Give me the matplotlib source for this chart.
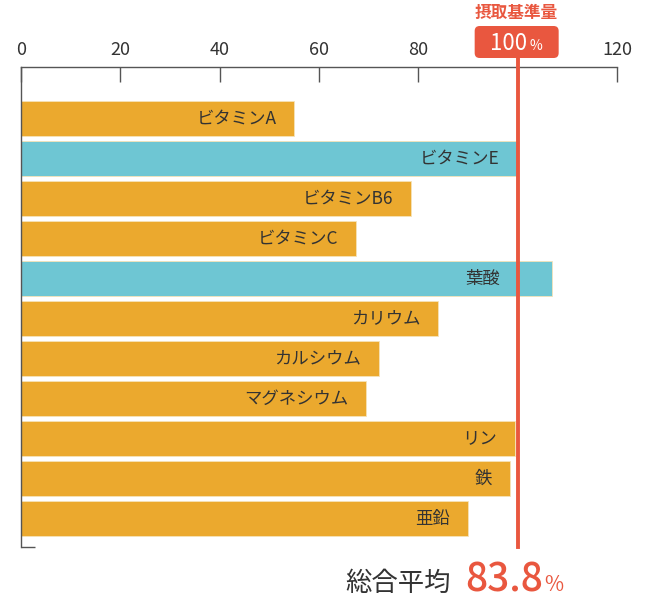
import matplotlib
matplotlib.use('Agg')
import matplotlib.pyplot as plt
from matplotlib.patches import FancyBboxPatch
from matplotlib.transforms import blended_transform_factory, IdentityTransform

plt.rcParams['font.family'] = ['Noto Sans CJK JP', 'DejaVu Sans']

names = ['ビタミンA', 'ビタミンE', 'ビタミンB6', 'ビタミンC', '葉酸', 'カリウム',
         'カルシウム', 'マグネシウム', 'リン', '鉄', '亜鉛']
values = [55, 100, 78.5, 67.4, 107, 84, 72, 69.5, 99.5, 98.5, 90]
kinds = ['m', 'h', 'm', 'm', 'h', 'm', 'm', 'm', 'm', 'm', 'm']
xticks = [0, 20, 40, 60, 80, 100, 120]
xticklabels = ['0', '20', '40', '60', '80', '', '120']
standard = 100
average = 83.8

orange = '#EBA92E'
teal = '#6EC6D3'
red = '#E9573F'
gray = '#555555'

W, H = 648, 600
fig = plt.figure(figsize=(W/100, H/100), dpi=100)
ax = fig.add_axes([21/W, 53/H, (617-21)/W, 480/H])

ypos = list(range(len(names)))
cols = [teal if k == 'h' else orange for k in kinds]
ax.barh(ypos, values, height=0.87, color=cols, edgecolor='#f6e3b8', linewidth=0.6)
for y, v, n in zip(ypos, values, names):
    # labels never go past the standard line
    ax.text(min(v, standard) - 3.6, y, n, ha='right', va='center', fontsize=12.5,
            color='#333333', zorder=8)

ax.set_xlim(0, 120)
ax.set_ylim(10.71, -1.29)
ax.xaxis.tick_top()
ax.set_xticks(xticks)
ax.set_xticklabels(xticklabels)
ax.tick_params(axis='x', direction='in', length=11, width=1, color=gray,
               labelsize=13, labelcolor='#333333', pad=6)
ax.set_yticks([10.71])
ax.set_yticklabels([])
ax.tick_params(axis='y', direction='in', length=10, width=1, color=gray)
for s in ['right', 'bottom']:
    ax.spines[s].set_visible(False)
for s in ['top', 'left']:
    ax.spines[s].set_color(gray)
    ax.spines[s].set_linewidth(1)

# standard line (x in data, y in figure fraction)
bt = blended_transform_factory(ax.transData, fig.transFigure)
ax.plot([standard, standard], [53/H, 1 - 58/H], color=red, lw=2.8,
        transform=bt, clip_on=False, zorder=5)

# label box in pixels
fig.canvas.draw()
cx = ax.transData.transform((standard, 0))[0]
box = FancyBboxPatch((cx - 43, H - 58), 84, 32,
                     boxstyle='round,pad=0,rounding_size=5',
                     fc=red, ec='none', transform=IdentityTransform(), zorder=6)
fig.patches.append(box)
fig.text((cx + 9)/W, 1 - 50/H, '100', ha='right', va='baseline', fontsize=16,
         color='white', zorder=7)
fig.text((cx + 12)/W, 1 - 50/H, '%', ha='left', va='baseline', fontsize=10,
         color='white', zorder=7)
fig.text((cx - 1)/W, 1 - 13/H, '摂取基準量', ha='center', va='center', fontsize=12,
         color=red, fontweight='bold')

# average
fig.text(451/W, 1 - 591/H, '総合平均', ha='right', va='baseline', fontsize=19,
         color='#333333')
fig.text(465/W, 1 - 591/H, f'{average}', ha='left', va='baseline', fontsize=28,
         color=red, fontweight='medium')
fig.text(544/W, 1 - 591/H, '%', ha='left', va='baseline', fontsize=15, color=red)

fig.savefig('out.png', dpi=100)
